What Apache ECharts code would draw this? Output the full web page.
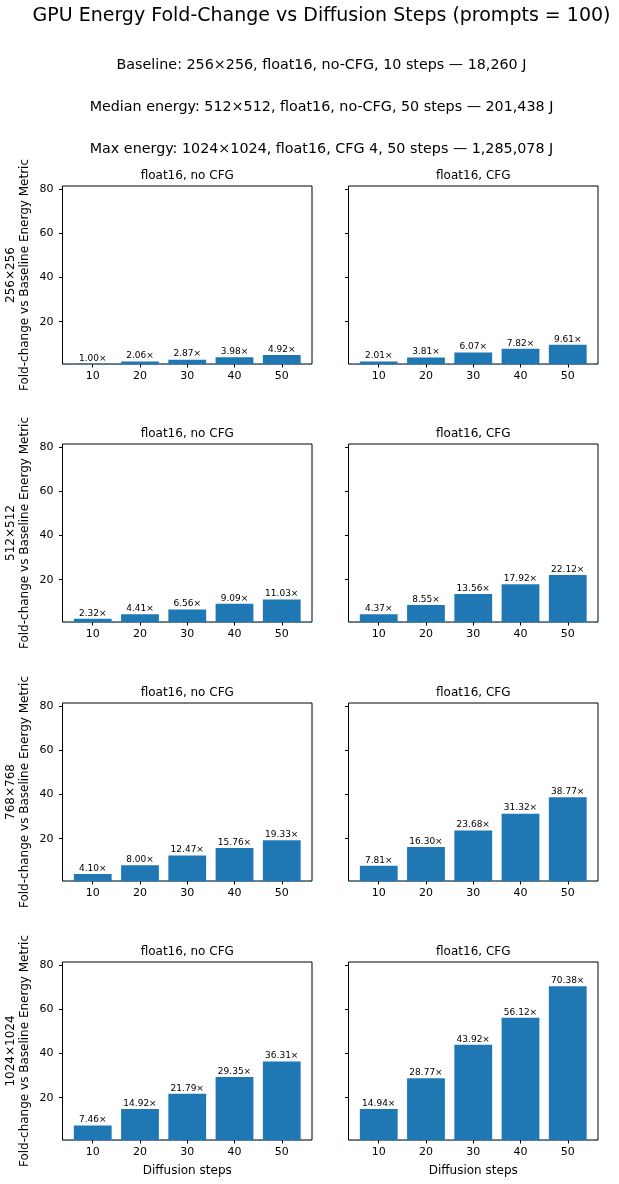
<!DOCTYPE html>
<html>
<head>
<meta charset="utf-8">
<script src="https://cdn.jsdelivr.net/npm/echarts@6.0.0/dist/echarts.min.js"></script>
<style>
  html, body { margin: 0; padding: 0; background: #fff; }
  #chart { width: 619px; height: 1184px; }
</style>
</head>
<body>
<div id="chart"></div>
<script>
// diffusion steps on the x axis
const steps = [10, 20, 30, 40, 50];
const resolutions = ['256×256', '512×512', '768×768', '1024×1024'];
const panelTitles = ['float16, no CFG', 'float16, CFG'];

// fold-change vs baseline, one array per resolution / cfg setting
const noCfg256 = [1.00, 2.06, 2.87, 3.98, 4.92];
const cfg256 = [2.01, 3.81, 6.07, 7.82, 9.61];
const noCfg512 = [2.32, 4.41, 6.56, 9.09, 11.03];
const cfg512 = [4.37, 8.55, 13.56, 17.92, 22.12];
const noCfg768 = [4.10, 8.00, 12.47, 15.76, 19.33];
const cfg768 = [7.81, 16.30, 23.68, 31.32, 38.77];
const noCfg1024 = [7.46, 14.92, 21.79, 29.35, 36.31];
const cfg1024 = [14.94, 28.77, 43.92, 56.12, 70.38];

const yTicks = [20, 40, 60, 80];
const baselineFold = 1;

const mainTitle = 'GPU Energy Fold-Change vs Diffusion Steps (prompts = 100)';
const subLines = [
  'Baseline: 256×256, float16, no-CFG, 10 steps — 18,260 J',
  'Median energy: 512×512, float16, no-CFG, 50 steps — 201,438 J',
  'Max energy: 1024×1024, float16, CFG 4, 50 steps — 1,285,078 J'
];

const rows = [
  [noCfg256, cfg256],
  [noCfg512, cfg512],
  [noCfg768, cfg768],
  [noCfg1024, cfg1024]
];

const FONT = 'DejaVu Sans';
const BLUE = '#1f77b4';
const rowTops = [186, 444, 703, 962];
const colLefts = [62.5, 348.5];
const gridW = 249.5;
const gridH = 178;
const xMin = 3.6, xMax = 56.4;
const yMin = 0.9, yMax = 81.3;

const chart = echarts.init(document.getElementById('chart'), null, { renderer: 'canvas' });

const grids = [], xAxes = [], yAxes = [], series = [], titles = [];

titles.push({
  text: mainTitle,
  left: 321.5, top: 7, textAlign: 'center', padding: 0,
  textStyle: { fontFamily: FONT, fontSize: 19, fontWeight: 'normal', color: '#000' }
});
const subTops = [58.5, 100, 142];
subLines.forEach((s, i) => {
  titles.push({
    text: s,
    left: 321.5, top: subTops[i], textAlign: 'center', padding: 0,
    textStyle: { fontFamily: FONT, fontSize: 14.3, fontWeight: 'normal', color: '#000' }
  });
});

rows.forEach((pair, r) => {
  pair.forEach((vals, c) => {
    const idx = grids.length;
    const left = colLefts[c];
    const top = rowTops[r];
    grids.push({
      left: left, top: top, width: gridW, height: gridH,
      show: true, borderColor: '#000', borderWidth: 1, backgroundColor: 'transparent'
    });
    titles.push({
      text: panelTitles[c],
      left: left + gridW / 2, top: top - 16, textAlign: 'center', padding: 0,
      textStyle: { fontFamily: FONT, fontSize: 12, fontWeight: 'normal', color: '#000' }
    });
    const bottomRow = r === rows.length - 1;
    xAxes.push({
      type: 'value', gridIndex: idx, min: xMin, max: xMax,
      name: bottomRow ? 'Diffusion steps' : '',
      nameLocation: 'middle', nameGap: 25,
      nameTextStyle: { fontFamily: FONT, fontSize: 12, color: '#000' },
      axisLine: { show: false },
      splitLine: { show: false },
      axisTick: { show: true, customValues: steps, length: 3.5, lineStyle: { color: '#000' } },
      axisLabel: {
        customValues: steps, margin: 7,
        fontFamily: FONT, fontSize: 11, color: '#000'
      }
    });
    yAxes.push({
      type: 'value', gridIndex: idx, min: yMin, max: yMax,
      name: c === 0 ? resolutions[r] + '\nFold-change vs Baseline Energy Metric' : '',
      nameLocation: 'middle', nameRotate: 90, nameGap: 31,
      nameTextStyle: { fontFamily: FONT, fontSize: 12, color: '#000', lineHeight: 14, align: 'center' },
      axisLine: { show: false },
      splitLine: { show: false },
      axisTick: { show: true, customValues: yTicks, length: 3.5, lineStyle: { color: '#000' } },
      axisLabel: {
        show: c === 0, customValues: yTicks, margin: 9,
        fontFamily: FONT, fontSize: 11, color: '#000'
      }
    });
    series.push({
      type: 'bar', xAxisIndex: idx, yAxisIndex: idx,
      barWidth: 8 * gridW / (xMax - xMin),
      itemStyle: { color: BLUE },
      data: steps.map((s, i) => [s, vals[i]]),
      label: {
        show: true, position: 'top', distance: 1,
        fontFamily: FONT, fontSize: 9, color: '#000',
        formatter: p => p.value[1].toFixed(2) + '×'
      },
      markLine: {
        silent: true, symbol: 'none', z: 10,
        label: { show: false },
        lineStyle: { color: BLUE, type: [4, 3], width: 1, opacity: 0.6 },
        data: [{ yAxis: baselineFold }]
      },
      animation: false
    });
  });
});

chart.setOption({
  backgroundColor: '#fff',
  animation: false,
  title: titles,
  grid: grids,
  xAxis: xAxes,
  yAxis: yAxes,
  series: series
});

window.addEventListener('resize', () => chart.resize());
</script>
</body>
</html>
